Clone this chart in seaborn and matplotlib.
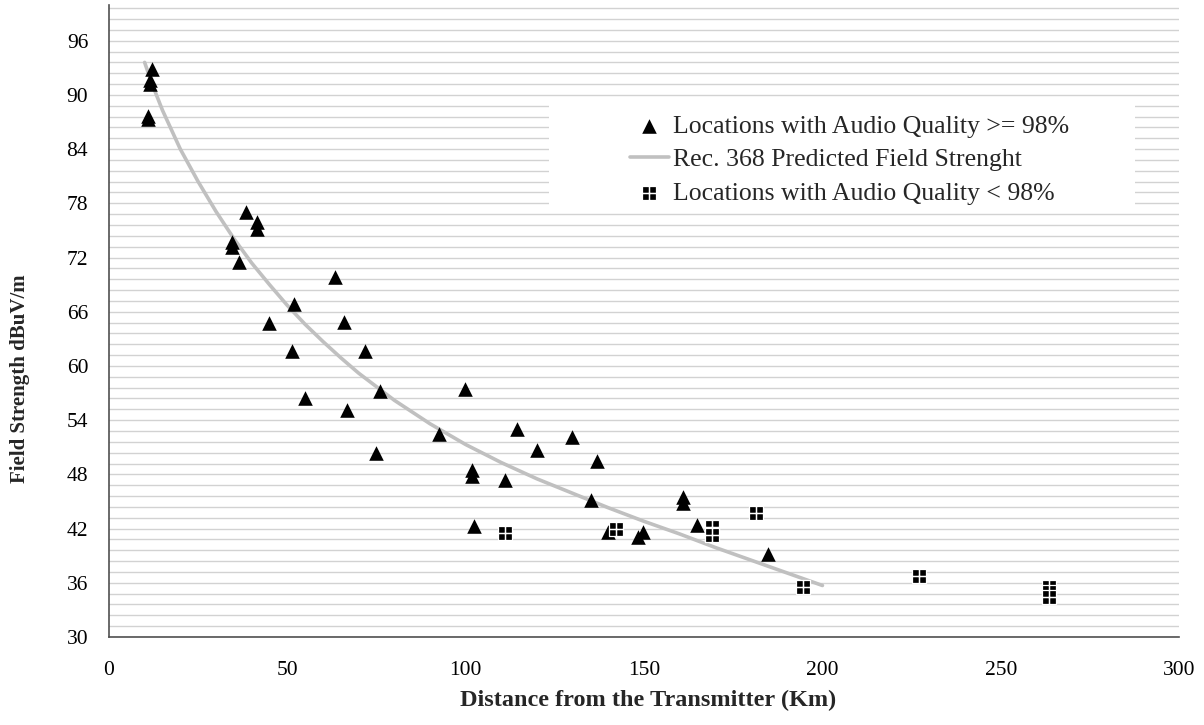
import pandas as pd
import seaborn as sns
import matplotlib.pyplot as plt
from matplotlib.path import Path
from matplotlib.markers import MarkerStyle
from matplotlib.patches import Rectangle
from matplotlib.ticker import MultipleLocator

# locations with audio quality >= 98%
good_km = [12.0, 11.5, 11.5, 11.0, 11.0, 38.4, 41.4, 41.4, 34.4, 34.4,
           36.4, 63.4, 51.9, 44.9, 65.9, 51.4, 71.9, 54.9, 66.8, 75.9,
           99.9, 92.4, 114.4, 74.9, 119.9, 129.8, 136.9, 101.9, 101.9, 110.9,
           135.0, 160.8, 160.8, 102.4, 140.0, 149.8, 148.4, 164.8, 184.8]
good_db = [92.9, 91.6, 91.2, 87.7, 87.3, 77.0, 75.9, 75.2, 73.7, 73.2,
           71.5, 69.8, 66.9, 64.7, 64.9, 61.6, 61.7, 56.4, 55.1, 57.2,
           57.5, 52.5, 53.0, 50.4, 50.7, 52.1, 49.5, 48.5, 47.8, 47.4,
           45.2, 45.5, 44.8, 42.3, 41.6, 41.6, 41.1, 42.4, 39.2]

# locations with audio quality < 98%
poor_km = [111.0, 142.1, 169.0, 169.0, 181.3, 194.5, 227.2, 263.4, 263.4, 263.4]
poor_db = [41.5, 41.9, 42.2, 41.3, 43.7, 35.5, 36.8, 35.5, 35.0, 34.4]

# Rec. 368 predicted field strength
pred_km = [10, 12, 15, 20, 25, 30, 35, 40, 45, 50, 55, 60, 65, 70, 80, 90, 100,
           110, 120, 130, 140, 150, 160, 170, 180, 190, 200]
pred_db = [93.6, 91.3, 88.3, 84.0, 80.4, 77.1, 74.1, 71.4, 69.0, 66.7, 64.6, 62.7, 60.9,
           59.2, 56.2, 53.6, 51.3, 49.3, 47.5, 45.9, 44.3, 42.8, 41.4, 39.9, 38.5, 37.1, 35.7]

LBL_GOOD = 'Locations with Audio Quality >= 98%'
LBL_PRED = 'Rec. 368 Predicted Field Strenght'
LBL_POOR = 'Locations with Audio Quality < 98%'

good = pd.DataFrame({'km': good_km, 'db': good_db})
poor = pd.DataFrame({'km': poor_km, 'db': poor_db})
pred = pd.DataFrame({'km': pred_km, 'db': pred_db})

sns.set_style('white')
plt.rcParams['font.family'] = ['Liberation Serif', 'DejaVu Serif']

# black square made of four cells, white edges give the cross
verts, codes = [], []
for x0, x1 in [(-1, 0), (0, 1)]:
    for y0, y1 in [(-1, 0), (0, 1)]:
        verts += [(x0, y0), (x1, y0), (x1, y1), (x0, y1), (x0, y0)]
        codes += [Path.MOVETO, Path.LINETO, Path.LINETO, Path.LINETO, Path.CLOSEPOLY]
quad = MarkerStyle(Path(verts, codes))

fig = plt.figure(figsize=(12.04, 7.25), dpi=100)
ax = fig.add_axes([0.0905, 0.1214, 0.8889, 0.8723])

ax.add_patch(Rectangle((0.411, 0.672), 0.548, 0.177, transform=ax.transAxes,
                       facecolor='white', edgecolor='none', zorder=1))

sns.lineplot(data=pred, x='km', y='db', ax=ax, color='#c0c0c0', lw=2.6,
             label=LBL_PRED, zorder=2)
sns.scatterplot(data=good, x='km', y='db', ax=ax, marker='^', s=110,
                color='black', linewidth=0, label=LBL_GOOD, zorder=3)
sns.scatterplot(data=poor, x='km', y='db', ax=ax, marker=quad, s=100,
                color='black', edgecolor='white', linewidth=0.9,
                label=LBL_POOR, zorder=3)

ax.set_xlim(0, 300)
ax.set_ylim(30, 100)
ax.xaxis.set_major_locator(MultipleLocator(50))
ax.yaxis.set_minor_locator(MultipleLocator(1.2))
ax.set_yticks(range(30, 97, 6))
ax.set_axisbelow(True)
ax.grid(axis='y', which='both', color='#d2d2d2', lw=1)
ax.grid(axis='x', visible=False)

for side in ['top', 'right']:
    ax.spines[side].set_visible(False)
for side in ['left', 'bottom']:
    ax.spines[side].set_color('#505050')
    ax.spines[side].set_linewidth(1.2)

ax.tick_params(axis='both', which='major', direction='out', length=5, width=1,
               color='#505050', labelsize=15.5, labelcolor='black')
ax.tick_params(axis='y', which='minor', length=0)
ax.tick_params(axis='x', pad=12)
ax.tick_params(axis='y', pad=10)

ax.set_xlabel('Distance from the Transmitter (Km)', fontsize=17.5, fontweight='bold', va='center')
ax.set_ylabel('Field Strength dBuV/m', fontsize=15, fontweight='bold', va='center')
ax.xaxis.set_label_coords(0.504, -0.0996)
ax.yaxis.set_label_coords(-0.083, 0.408)

handles, labels = ax.get_legend_handles_labels()
order = [labels.index(LBL_GOOD), labels.index(LBL_PRED), labels.index(LBL_POOR)]
ax.legend([handles[i] for i in order], [labels[i] for i in order],
          loc='upper left', bbox_to_anchor=(0.487, 0.826), frameon=False,
          fontsize=18.5, borderpad=0, handlelength=1.5, handletextpad=0.15,
          labelspacing=0.41, borderaxespad=0)

fig.savefig('out.png', dpi=100)
